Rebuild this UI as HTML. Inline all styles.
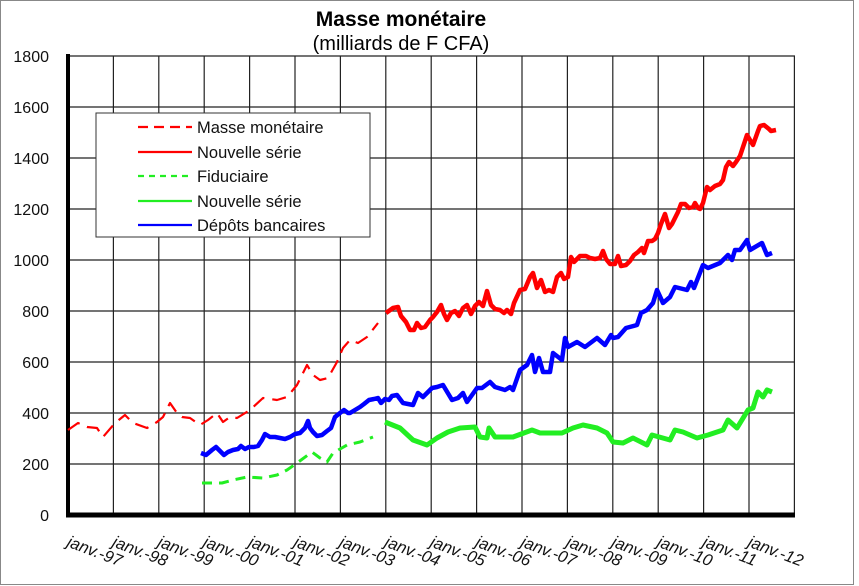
<!DOCTYPE html>
<html><head><meta charset="utf-8"><style>
html,body{margin:0;padding:0;background:#fff}
svg{display:block}
text{font-family:"Liberation Sans",Arial,sans-serif}
</style></head><body>
<svg width="859" height="586" viewBox="0 0 859 586" xmlns="http://www.w3.org/2000/svg">
<rect x="0.5" y="0.5" width="853" height="584" fill="#fff" stroke="#888" stroke-width="1"/>
<text x="401" y="26" font-size="21" font-weight="bold" text-anchor="middle">Masse monétaire</text>
<text x="401" y="50" font-size="20" text-anchor="middle">(milliards de F CFA)</text>
<g stroke="#222" stroke-width="1.2" fill="none">
<line x1="68" y1="56" x2="795" y2="56"/>
<line x1="68" y1="107" x2="795" y2="107"/>
<line x1="68" y1="158" x2="795" y2="158"/>
<line x1="68" y1="209" x2="795" y2="209"/>
<line x1="68" y1="260" x2="795" y2="260"/>
<line x1="68" y1="311" x2="795" y2="311"/>
<line x1="68" y1="362" x2="795" y2="362"/>
<line x1="68" y1="413" x2="795" y2="413"/>
<line x1="68" y1="464" x2="795" y2="464"/>
<line x1="113.4" y1="56" x2="113.4" y2="515"/>
<line x1="158.8" y1="56" x2="158.8" y2="515"/>
<line x1="204.2" y1="56" x2="204.2" y2="515"/>
<line x1="249.6" y1="56" x2="249.6" y2="515"/>
<line x1="295" y1="56" x2="295" y2="515"/>
<line x1="340.4" y1="56" x2="340.4" y2="515"/>
<line x1="385.8" y1="56" x2="385.8" y2="515"/>
<line x1="431.2" y1="56" x2="431.2" y2="515"/>
<line x1="476.6" y1="56" x2="476.6" y2="515"/>
<line x1="522" y1="56" x2="522" y2="515"/>
<line x1="567.4" y1="56" x2="567.4" y2="515"/>
<line x1="612.8" y1="56" x2="612.8" y2="515"/>
<line x1="658.2" y1="56" x2="658.2" y2="515"/>
<line x1="703.6" y1="56" x2="703.6" y2="515"/>
<line x1="749" y1="56" x2="749" y2="515"/>
<line x1="794.4" y1="56" x2="794.4" y2="515"/>
</g>
<line x1="68" y1="54" x2="68" y2="517" stroke="#000" stroke-width="4"/>
<line x1="66" y1="515" x2="795" y2="515" stroke="#000" stroke-width="5"/>
<g font-size="16" text-anchor="end" fill="#111">
<text x="49" y="62">1800</text><text x="49" y="113">1600</text><text x="49" y="164">1400</text>
<text x="49" y="215">1200</text><text x="49" y="266">1000</text><text x="49" y="317">800</text>
<text x="49" y="368">600</text><text x="49" y="419">400</text><text x="49" y="470">200</text>
<text x="49" y="521">0</text>
</g>
<g font-size="16.5" font-style="italic" fill="#111">
<text transform="translate(66,546) rotate(21)">janv.-97</text>
<text transform="translate(111.4,546) rotate(21)">janv.-98</text>
<text transform="translate(156.8,546) rotate(21)">janv.-99</text>
<text transform="translate(202.2,546) rotate(21)">janv.-00</text>
<text transform="translate(247.6,546) rotate(21)">janv.-01</text>
<text transform="translate(293,546) rotate(21)">janv.-02</text>
<text transform="translate(338.4,546) rotate(21)">janv.-03</text>
<text transform="translate(383.8,546) rotate(21)">janv.-04</text>
<text transform="translate(429.2,546) rotate(21)">janv.-05</text>
<text transform="translate(474.6,546) rotate(21)">janv.-06</text>
<text transform="translate(520,546) rotate(21)">janv.-07</text>
<text transform="translate(565.4,546) rotate(21)">janv.-08</text>
<text transform="translate(610.8,546) rotate(21)">janv.-09</text>
<text transform="translate(656.2,546) rotate(21)">janv.-10</text>
<text transform="translate(701.6,546) rotate(21)">janv.-11</text>
<text transform="translate(747,546) rotate(21)">janv.-12</text>
</g>
<g fill="none" stroke-linejoin="round">
<polyline stroke="#f00" stroke-width="2.2" stroke-dasharray="14,8" points="68,430 78,423 87,427 97,428 103,437 115,423 125,415 133,423 147,428 157,422 163,417 170,403 177,413 182,417 190,418 200,425 208,420 217,413 223,422 230,417 237,418 250,410 263,398 277,400 287,397 297,385 307,365 313,375 320,380 328,378 337,362 343,348 350,340 358,343 367,337 378,323"/>
<polyline stroke="#2e2" stroke-width="3" stroke-dasharray="10,7" points="202,483 213,483 222,483 233,480 247,477 263,478 277,475 287,470 297,463 312,452 320,458 327,462 333,453 347,445 360,442 373,437"/>
<polyline stroke="#f00" stroke-width="4.5" points="386,313 393,308 398,307 401,316 406,322 410,330 414,330 417,323 421,328 425,327 430,320 433,317 437,312 441,305 444,314 447,320 451,313 455,311 459,316 463,308 467,305 471,314 475,306 479,302 483,306 487,291 491,305 495,309 500,310 504,313 507,310 511,314 514,303 520,290 525,289 530,277 533,273 537,288 541,280 545,292 549,290 553,292 557,277 561,273 564,279 568,277 571,257 574,262 580,256 586,256 590,258 595,259 600,258 603,251 606,259 610,264 615,264 618,256 621,266 626,265 630,261 634,255 638,252 642,248 644,253 648,241 652,241 655,239 658,233 661,224 665,214 669,228 672,224 675,218 678,212 681,204 685,204 689,208 693,207 695,203 698,208 700,209 703,203 707,187 710,190 715,186 720,184 723,180 726,167 729,162 733,166 736,162 740,156 742,150 747,135 750,140 753,145 758,131 760,126 764,125 769,129 771,131 776,130"/>
<polyline stroke="#00f" stroke-width="4.5" points="201,453 206,455 212,450 216,447 220,451 224,455 228,452 233,450 238,449 241,446 245,449 249,447 254,447 258,446 262,440 265,434 270,437 275,437 280,438 285,439 290,437 295,434 300,433 305,428 308,421 310,428 313,432 317,436 322,435 327,431 331,428 335,417 340,413 344,410 348,413 350,413 355,410 360,407 364,404 369,400 374,399 378,398 381,403 385,399 389,400 392,396 397,395 403,403 413,405 418,393 423,397 432,388 437,387 443,385 452,400 458,398 463,393 467,402 477,388 482,388 490,382 495,387 505,390 510,387 513,390 520,370 527,365 532,355 535,372 539,358 543,372 550,372 553,353 562,360 565,338 568,347 577,342 585,347 597,338 605,345 611,335 613,338 618,337 626,328 637,325 641,313 647,310 653,303 657,290 663,303 670,297 675,287 687,290 691,282 694,288 703,265 708,268 720,263 728,255 732,260 735,250 740,250 747,240 750,250 762,243 767,255 772,253"/>
<polyline stroke="#2e2" stroke-width="5" points="385,422 400,428 413,440 427,445 437,438 448,432 460,428 475,427 480,437 487,438 489,428 495,437 513,437 532,430 540,433 562,433 573,428 583,425 597,428 607,433 613,442 623,443 633,438 647,445 652,435 670,440 675,430 683,432 697,438 708,435 723,430 728,420 737,428 748,410 753,408 758,392 763,397 767,390 772,392"/>
</g>
<rect x="96" y="113" width="274" height="124" fill="#fff" stroke="#333" stroke-width="1"/>
<g stroke-width="2.2">
<line x1="138" y1="127" x2="192" y2="127" stroke="#f00" stroke-dasharray="10,6"/>
<line x1="138" y1="152" x2="192" y2="152" stroke="#f00"/>
<line x1="138" y1="176" x2="192" y2="176" stroke="#2e2" stroke-dasharray="6,5"/>
<line x1="138" y1="201" x2="192" y2="201" stroke="#2e2"/>
<line x1="138" y1="225" x2="192" y2="225" stroke="#00f"/>
</g>
<g font-size="16.5" fill="#111">
<text x="197" y="133">Masse monétaire</text>
<text x="197" y="158">Nouvelle série</text>
<text x="197" y="182">Fiduciaire</text>
<text x="197" y="207">Nouvelle série</text>
<text x="197" y="231">Dépôts bancaires</text>
</g>
</svg>
</body></html>
